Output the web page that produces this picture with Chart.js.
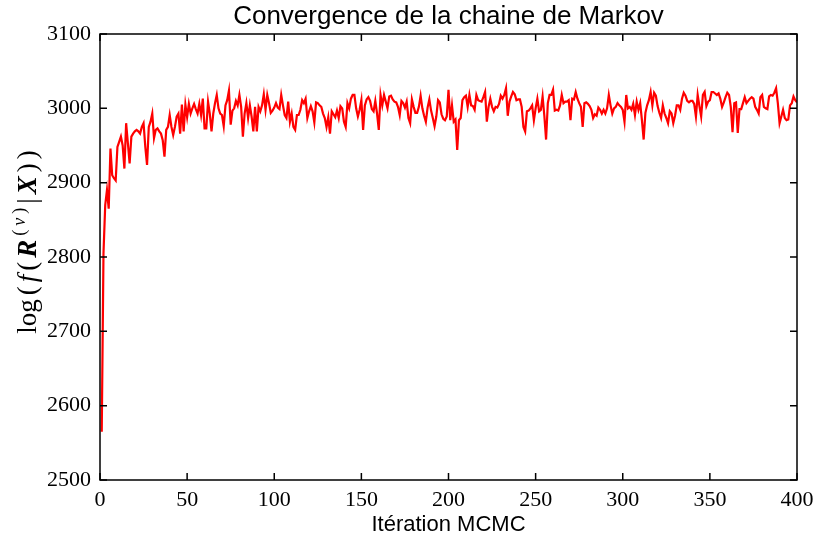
<!DOCTYPE html>
<html>
<head>
<meta charset="utf-8">
<script src="https://cdn.jsdelivr.net/npm/chart.js@4.4.0/dist/chart.umd.min.js"></script>
<style>
  html, body { margin: 0; padding: 0; background: #fff; }
  canvas { display: block; }
</style>
</head>
<body>
<canvas id="trace" width="813" height="541"></canvas>
<script>
// log-vraisemblance de la chaine, une valeur par iteration (1..400)
const logLik = [
  2565, 2805, 2870, 2890, 2865, 2946, 2910, 2906, 2903, 2948, 2955, 2962, 2950, 2919, 2980, 2953,
  2926, 2962, 2966, 2969, 2971, 2969, 2966, 2975, 2980, 2948, 2924, 2975, 2982, 2993, 2960, 2971,
  2973, 2969, 2966, 2957, 2935, 2971, 2975, 2991, 2975, 2964, 2975, 2989, 2993, 2966, 3005, 2969,
  3005, 2988, 3006, 2993, 3000, 3006, 2999, 2993, 3006, 2991, 3013, 2973, 2973, 3009, 2993, 2969,
  2993, 3007, 3018, 3000, 2993, 2991, 2976, 3004, 3011, 3024, 2978, 2997, 3000, 3010, 3004, 3018,
  3002, 2962, 2993, 3007, 2987, 3004, 2989, 2969, 3002, 2969, 3002, 2996, 3004, 3019, 2998, 3018,
  3007, 2994, 2997, 3001, 3007, 3001, 2999, 3018, 3004, 2991, 2987, 3009, 2982, 2993, 2975, 2971,
  2991, 2991, 2998, 3011, 3007, 3013, 2987, 2996, 3003, 2996, 2981, 3008, 3007, 3004, 3002, 2993,
  2987, 2975, 2988, 2966, 2996, 2992, 2988, 2997, 2987, 3003, 3000, 2982, 2975, 3007, 3000, 3013,
  3018, 3018, 3000, 2989, 2998, 3011, 2971, 3004, 3012, 3015, 3010, 2999, 2996, 3010, 2993, 2971,
  3018, 3004, 3018, 3009, 3000, 3016, 3017, 3012, 3009, 3008, 3002, 2991, 3010, 3007, 3001, 3009,
  2987, 2980, 3012, 3002, 2994, 2994, 3002, 3017, 3000, 2990, 2982, 3001, 3012, 2997, 2987, 2976,
  2989, 3011, 3008, 2992, 2986, 2984, 2989, 3025, 2984, 3004, 2982, 2985, 2944, 2984, 2987, 3011,
  3015, 3017, 3002, 3018, 3004, 3003, 2998, 3018, 3011, 3010, 3009, 3015, 3022, 2982, 3002, 3013,
  3002, 2996, 3002, 3001, 3006, 3017, 3013, 3018, 3027, 2990, 3009, 3016, 3022, 3019, 3011, 3012,
  3012, 3002, 2975, 2969, 2996, 2997, 3000, 3004, 2984, 3000, 3013, 2996, 2998, 3016, 2990, 2958,
  3007, 3018, 3018, 3025, 2997, 2998, 2997, 3004, 3018, 3007, 3009, 3009, 3011, 2984, 3013, 3012,
  3022, 3013, 3007, 3002, 2975, 3007, 3008, 3006, 3003, 2998, 2987, 2992, 2990, 3001, 2998, 2993,
  2998, 2993, 3000, 3018, 3004, 2993, 3000, 3002, 3007, 3004, 3002, 2998, 2982, 3018, 3000, 3002,
  2998, 3006, 2991, 3009, 2998, 3007, 2984, 2958, 2994, 3004, 3011, 3022, 3004, 3021, 3017, 3003,
  2994, 2987, 3004, 2993, 2987, 2980, 2996, 2993, 2980, 2990, 3004, 3004, 2998, 3013, 3021, 3017,
  3010, 3008, 3010, 3010, 3006, 2989, 3018, 3003, 2989, 3018, 3022, 3003, 3009, 3011, 3022, 3022,
  3020, 3018, 3020, 3013, 3002, 3008, 3015, 3021, 3018, 3002, 2968, 3007, 3008, 2967, 2999, 2999,
  3007, 3015, 3007, 3010, 3013, 3015, 3013, 3002, 2998, 2993, 3015, 3018, 3002, 3000, 2999, 3016,
  3018, 3017, 3021, 3027, 3007, 2980, 2989, 2998, 2987, 2984, 2985, 3004, 3007, 3016, 3011, 3008
];
const iterations = logLik.map((v, i) => i + 1);

// graduations
const xTicks = [0, 50, 100, 150, 200, 250, 300, 350, 400];
const yTicks = [2500, 2600, 2700, 2800, 2900, 3000, 3100];

const titleText = "Convergence de la chaine de Markov";
const xLabelText = "Itération MCMC";

const serif = "'Liberation Serif', 'DejaVu Serif', serif";
const sans = "'Liberation Sans', Arial, sans-serif";

// cadre, graduations vers l'interieur, titre et libelles d'axes
const decorations = {
  id: "decorations",
  afterDraw(chart) {
    const ctx = chart.ctx;
    const area = chart.chartArea;
    const xs = chart.scales.x;
    const ys = chart.scales.y;
    const tick = 7;
    ctx.save();
    ctx.strokeStyle = "#000";
    ctx.lineWidth = 1.5;
    ctx.beginPath();
    xTicks.forEach(t => {
      const px = xs.getPixelForValue(t);
      ctx.moveTo(px, area.bottom); ctx.lineTo(px, area.bottom - tick);
      ctx.moveTo(px, area.top); ctx.lineTo(px, area.top + tick);
    });
    yTicks.forEach(t => {
      const py = ys.getPixelForValue(t);
      ctx.moveTo(area.left, py); ctx.lineTo(area.left + tick, py);
      ctx.moveTo(area.right, py); ctx.lineTo(area.right - tick, py);
    });
    ctx.stroke();
    ctx.strokeRect(area.left, area.top, area.right - area.left, area.bottom - area.top);

    ctx.fillStyle = "#000";
    ctx.textAlign = "center";
    ctx.textBaseline = "alphabetic";
    const cx = (area.left + area.right) / 2;
    ctx.font = "26px " + sans;
    ctx.fillText(titleText, cx, 24);
    ctx.font = "22px " + sans;
    ctx.fillText(xLabelText, cx, 531);

    // log(f(R^(v)|X)) en notation mathematique, ecrit verticalement
    const gap = 4;
    const big = "27px " + serif;
    const small = "18px " + serif;
    const parts = [
      { t: "log", f: big },
      { t: "(", f: big },
      { t: "f", f: "italic " + big },
      { t: "(", f: big },
      { t: "R", f: "italic bold " + big },
      { t: "(", f: small, up: 11 },
      { t: "v", f: "italic " + small, up: 11 },
      { t: ")", f: small, up: 11 },
      { t: "|", f: big },
      { t: "X", f: "italic bold " + big },
      { t: ")", f: big },
      { t: ")", f: big }
    ];
    let total = 0;
    parts.forEach(p => { ctx.font = p.f; p.w = ctx.measureText(p.t).width + gap; total += p.w; });
    ctx.translate(36, 240);
    ctx.rotate(-Math.PI / 2);
    ctx.textAlign = "left";
    let pos = -total / 2;
    parts.forEach(p => {
      ctx.font = p.f;
      ctx.fillText(p.t, pos, -(p.up || 0));
      pos += p.w;
    });
    ctx.restore();
  }
};

new Chart(document.getElementById("trace"), {
  type: "line",
  data: {
    datasets: [{
      data: iterations.map((it, i) => ({ x: it, y: logLik[i] })),
      borderColor: "#ff0000",
      borderWidth: 2.2,
      pointRadius: 0,
      tension: 0,
      fill: false
    }]
  },
  options: {
    responsive: false,
    animation: false,
    layout: { padding: { left: 0, right: 16, top: 34, bottom: 0 } },
    plugins: { legend: { display: false }, tooltip: { enabled: false } },
    scales: {
      x: {
        type: "linear",
        min: 0, max: 400,
        afterFit: s => { s.height = 61; s.paddingLeft = 0; s.paddingRight = 0; },
        afterBuildTicks: s => { s.ticks = xTicks.map(v => ({ value: v })); },
        grid: { display: false, drawTicks: false },
        border: { display: false },
        ticks: { color: "#000", font: { family: serif, size: 22 }, padding: 7, maxRotation: 0,
                 callback: v => String(v) }
      },
      y: {
        min: 2500, max: 3100,
        afterFit: s => { s.width = 100; s.paddingTop = 0; s.paddingBottom = 0; },
        afterBuildTicks: s => { s.ticks = yTicks.map(v => ({ value: v })); },
        grid: { display: false, drawTicks: false },
        border: { display: false },
        ticks: { color: "#000", font: { family: serif, size: 22 }, padding: 9,
                 callback: v => String(v) }
      }
    }
  },
  plugins: [decorations]
});
</script>
</body>
</html>
